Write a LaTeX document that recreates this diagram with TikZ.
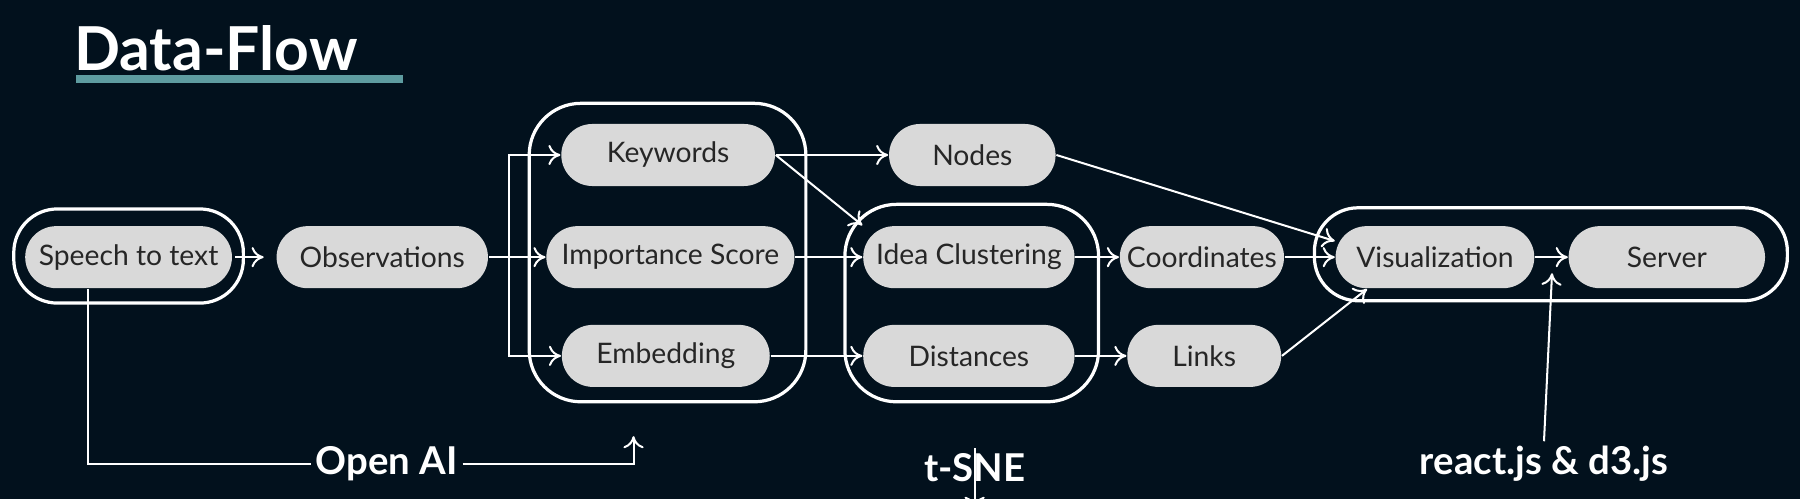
\documentclass[tikz,border=0pt]{standalone}
\usepackage{fontspec}
\setmainfont{Lato}
\usetikzlibrary{arrows.meta,positioning}
\definecolor{bgdark}{HTML}{02111D}
\definecolor{pillgray}{HTML}{D9D9D9}
\definecolor{teal}{HTML}{5E9CA0}
\tikzset{
  pill/.style={rectangle, rounded corners=0.27cm, fill=pillgray, text=black!85, minimum height=0.54cm, font=\fontsize{7}{8}\selectfont, inner sep=0pt},
  group/.style={draw=white, line width=0.8pt, rounded corners=0.38cm},
  line/.style={draw=white, line width=0.5pt, -{To[length=3pt,width=5pt]}},
  plain/.style={draw=white, line width=0.5pt},
  tool/.style={text=white, font=\fontsize{9.5}{11}\selectfont\bfseries, inner sep=1pt}
}
\begin{document}
\begin{tikzpicture}[x=0.01cm, y=-0.01cm]
  \fill[bgdark] (0,0) rectangle (1568,435);
  \useasboundingbox (0,0) rectangle (1568,435);
  % title
  \node[anchor=west, text=white, font=\fontsize{15}{18}\selectfont\bfseries, inner sep=0pt] (title) at (64,42) {Data-Flow};
  \fill[teal] (66,65) rectangle (351,72);
  % nodes
  \node[pill, minimum width=1.80cm] (speech) at (112,224) {Speech to text};
  \node[pill, minimum width=1.84cm] (obs) at (333,224) {Observations};
  \node[pill, minimum width=1.86cm] (keys) at (582,135) {Keywords};
  \node[pill, minimum width=2.16cm] (score) at (584,224) {Importance Score};
  \node[pill, minimum width=1.81cm] (embed) at (580,310) {Embedding};
  \node[pill, minimum width=1.45cm] (gnodes) at (847,135) {Nodes};
  \node[pill, minimum width=1.84cm] (cluster) at (844,224) {Idea Clustering};
  \node[pill, minimum width=1.84cm] (dist) at (844,310) {Distances};
  \node[pill, minimum width=1.43cm] (coords) at (1047,224) {Coordinates};
  \node[pill, minimum width=1.34cm] (links) at (1049,310) {Links};
  \node[pill, minimum width=1.73cm] (vis) at (1250,224) {Visualization};
  \node[pill, minimum width=1.71cm] (server) at (1452,224) {Server};
  % groups
  \draw[group] (12,182) rectangle (212,264);
  \draw[group, rounded corners=0.45cm] (461,90) rectangle (702,350);
  \draw[group, rounded corners=0.45cm] (736,178) rectangle (957,350);
  \draw[group] (1145,181) rectangle (1557,262);
  % tools
  \node[tool] (openai) at (337,404) {Open AI};
  \node[tool] (tsne) at (849,407) {t-SNE};
  \node[tool] (react) at (1345,404) {react.js \& d3.js};
  \coordinate (bus) at (443,224);
  % connectors
  \path[line] (speech.east) ++(2,0) -- ([xshift=-3pt]obs.west) ;
  \path[line] (obs) -- (score);
  \path[line] (bus) |- (keys.west);
  \path[line] (bus) |- (embed.west);
  \path[line] (keys) -- (gnodes);
  \path[line] (keys.east) -- (cluster.north west);
  \path[line] (score) -- (cluster);
  \path[line] (embed) -- (dist);
  \path[line] (cluster) -- (coords);
  \path[line] (dist) -- (links);
  \path[line] (gnodes.east) -- ([yshift=4pt]vis.west);
  \path[line] (coords) -- (vis);
  \path[line] (links.east) -- ([xshift=8pt]vis.south west);
  \path[line] (vis) -- (server);
  \path[plain] ([xshift=-10pt]speech.south) |- (openai.west);
  \path[line] (openai.east) -| ([xshift=-8pt,yshift=-12pt]embed.south);
  \path[line] (tsne.north) -- ([yshift=-30]tsne.north |- dist.south);
  \path[line] (react.north) -- (1352,238);
\end{tikzpicture}
\end{document}
